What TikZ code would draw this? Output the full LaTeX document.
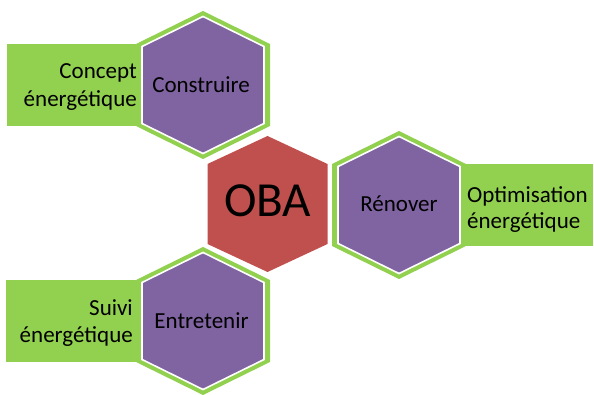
\documentclass[tikz,border=0pt]{standalone}
\usepackage{fontspec}
\setmainfont{Carlito}
\definecolor{hexgreen}{HTML}{92D050}
\definecolor{hexpurple}{HTML}{8064A2}
\definecolor{hexred}{HTML}{C0504D}
\tikzset{
  greenfill/.style={fill=hexgreen},
  purplehex/.style={fill=hexpurple, draw=white, line width=1.6pt, line join=miter},
  redhex/.style={fill=hexred},
  lbl/.style={inner sep=0pt, font=\fontsize{23}{28}\selectfont, text=black},
  oba/.style={inner sep=0pt, font=\fontsize{49}{55}\selectfont, text=black},
}
\newcommand{\outerhex}[1]{%
  \fill[greenfill] ($(#1)+(0,-74)$) -- ($(#1)+(67,-41)$) -- ($(#1)+(67,41)$) -- ($(#1)+(0,74)$) -- ($(#1)+(-67,41)$) -- ($(#1)+(-67,-41)$) -- cycle;}
\newcommand{\innerhex}[2]{%
  \draw[#2] ($(#1)+(0,-68.5)$) -- ($(#1)+(61,-38.5)$) -- ($(#1)+(61,38.5)$) -- ($(#1)+(0,68.5)$) -- ($(#1)+(-61,38.5)$) -- ($(#1)+(-61,-38.5)$) -- cycle;}
\usetikzlibrary{calc}
\begin{document}
\begin{tikzpicture}[x=1pt,y=-1pt]
\useasboundingbox (0,0) rectangle (594,395);
\coordinate (ctl) at (203,85);
\coordinate (cr) at (399,205);
\coordinate (cbl) at (203,321);
\coordinate (cm) at (267.5,204);
% green rectangles
\fill[greenfill] (7,44) rectangle (140,126);
\fill[greenfill] (462,164) rectangle (593,246);
\fill[greenfill] (6,280) rectangle (140,362);
% outer green hexagons
\outerhex{ctl}
\outerhex{cr}
\outerhex{cbl}
% inner purple hexagons
\innerhex{ctl}{purplehex}
\innerhex{cr}{purplehex}
\innerhex{cbl}{purplehex}
% red centre hexagon
\fill[redhex] ($(cm)+(0,-68)$) -- ($(cm)+(60,-40)$) -- ($(cm)+(60,40)$) -- ($(cm)+(0,68)$) -- ($(cm)+(-60,40)$) -- ($(cm)+(-60,-40)$) -- cycle;
% texts
\node[oba, anchor=base] (oba) at (267.5,217) {OBA};
\node[lbl, anchor=base] (construire) at (201,93) {Construire};
\node[lbl, anchor=base] (renover) at (399,212) {Rénover};
\node[lbl, anchor=base] (entretenir) at (201.5,328) {Entretenir};
\node[lbl, anchor=base east] (concept1) at (137,79) {Concept};
\node[lbl, anchor=base east] (concept2) at (137,107) {énergétique};
\node[lbl, anchor=base west] (optim1) at (467,203) {Optimisation};
\node[lbl, anchor=base west] (optim2) at (467,229) {énergétique};
\node[lbl, anchor=base east] (suivi1) at (133,315) {Suivi};
\node[lbl, anchor=base east] (suivi2) at (133,342) {énergétique};
\end{tikzpicture}
\end{document}
